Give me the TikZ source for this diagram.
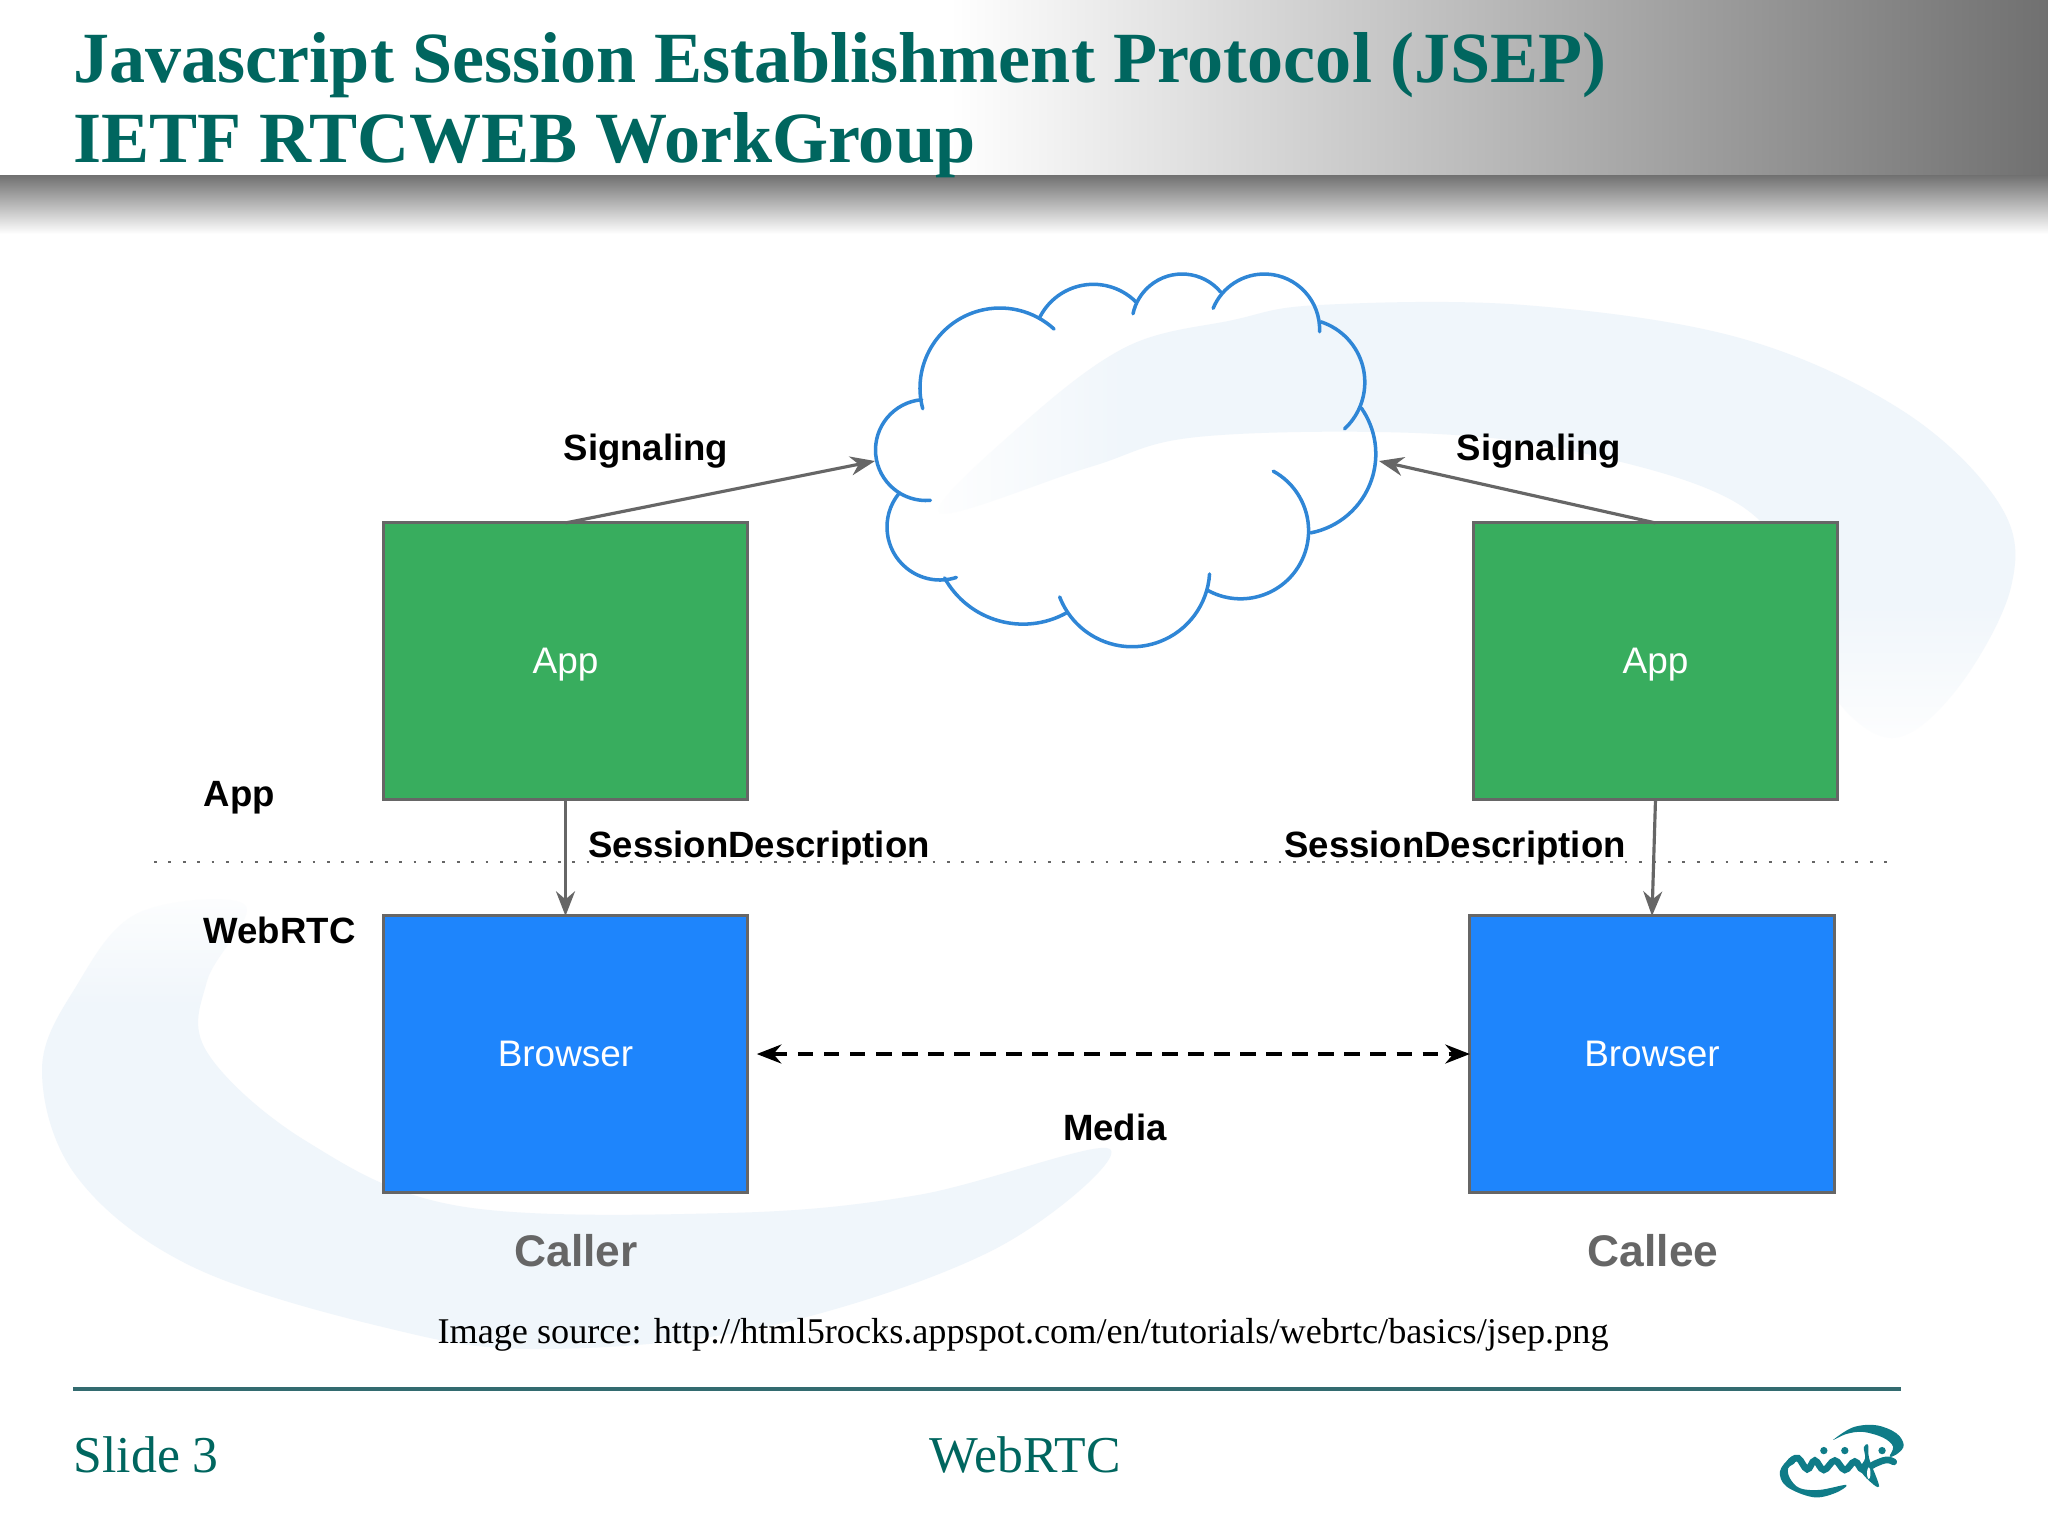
\documentclass[tikz,border=0pt]{standalone}
\usepackage{fontspec}
\setmainfont{Liberation Serif}
\newfontfamily\labelfont{Liberation Sans}
\usetikzlibrary{arrows.meta,fadings}
\definecolor{slideteal}{HTML}{00665F}
\definecolor{ruleteal}{HTML}{336B70}
\definecolor{logoteal}{HTML}{0F7C88}
\definecolor{swooshblue}{HTML}{F0F6FB}
\definecolor{appgreen}{HTML}{38AD5E}
\definecolor{browserblue}{HTML}{1E85FC}
\definecolor{cloudblue}{HTML}{2F86D6}
\definecolor{linegray}{HTML}{666666}
\tikzset{
  slide title/.style={anchor=base west, inner sep=0pt, font=\fontsize{20.5}{24}\selectfont\bfseries, text=slideteal},
  slide footer/.style={inner sep=0pt, font=\fontsize{14.7}{17}\selectfont, text=slideteal},
  layer box/.style={draw=linegray, line width=0.85pt, minimum width=3.64cm, minimum height=2.76cm,
    inner sep=0pt, outer sep=0pt, text=white, text depth=0pt, font=\labelfont\fontsize{10.5}{12}\selectfont},
  diagram label/.style={anchor=base, inner sep=0pt, font=\labelfont\bfseries\fontsize{10.4}{12}\selectfont},
  party label/.style={anchor=base, inner sep=0pt, text=linegray, font=\labelfont\bfseries\fontsize{12.6}{15}\selectfont},
  gray link/.style={draw=linegray, line width=0.9pt, -{Stealth[length=7pt,width=5.4pt]}},
  media link/.style={draw=black, line width=1pt, dash pattern=on 4.4pt off 3pt,
    {Stealth[length=7pt,width=5.4pt]}-{Stealth[length=7pt,width=5.4pt]}, shorten <=2.6pt},
  layer line/.style={draw=black!60, line width=0.8pt, dash pattern=on 0.8pt off 3.3pt},
  cloud arc/.style={draw=cloudblue, line width=1pt, line cap=round}
}
% one lobe of the cloud: centre x, centre y, radius, start angle, end angle
\def\CloudLobe#1#2#3#4#5{\draw[cloud arc] (#1,#2) ++(#4:#3) arc[start angle=#4, end angle=#5, radius=#3];}
\begin{document}
\begin{tikzpicture}[x=0.01cm, y=-0.01cm]
\useasboundingbox (0,0) rectangle (2048,1535);
\fill[white] (0,0) rectangle (2048,1535);

% header
\shade[left color=white, right color=black!56] (950,0) rectangle (2048,175);
\shade[top color=black!56, bottom color=white] (0,175) rectangle (2048,234);

% background swoosh
\fill[swooshblue] plot[smooth cycle, tension=0.6] coordinates {(940,513) (1019,427) (1126,347) (1233,320) (1319,305)
  (1524,305) (1740,338) (1903,411) (2000,505) (2011,587) (1957,689) (1892,738) (1830,690) (1810,600) (1740,505)
  (1578,452) (1416,433) (1197,437) (1090,467)};
\fill[swooshblue] plot[smooth cycle, tension=0.6] coordinates {(1110,1149) (995,1249) (765,1327) (536,1349) (383,1327)
  (191,1266) (77,1177) (42,1070) (77,985) (138,913) (245,905) (207,981) (207,1052) (306,1141) (459,1206) (727,1213) (918,1195)};
\fill[white, path fading=north] (1838,600) rectangle (2048,760);
\fill[white, path fading=south] (0,880) rectangle (290,1010);
\fill[white, path fading=east] (920,330) rectangle (1130,530);

\node[slide title] (titleone) at (73,82) {Javascript Session Establishment Protocol (JSEP)};
\node[slide title] (titletwo) at (73,162) {IETF RTCWEB WorkGroup};

% cloud
\CloudLobe{1000}{388}{80}{165}{312.5}
\CloudLobe{926}{450}{50.5}{265}{85}
\CloudLobe{940}{527}{53}{219}{72}
\CloudLobe{1023}{534.4}{89.7}{151}{61}
\CloudLobe{1132.1}{569.1}{77.6}{159}{3.6}
\CloudLobe{1240.6}{530.8}{68}{119.5}{-61.3}
\CloudLobe{1295.5}{454}{80.3}{79}{-35}
\CloudLobe{1301.2}{382.3}{63.6}{47}{-72}
\CloudLobe{1264.3}{329.3}{55.3}{2.5}{-157.7}
\CloudLobe{1182.1}{324.2}{50.2}{-40}{-168}
\CloudLobe{1093.4}{344.4}{60.1}{-45}{-154}
\coordinate (cloudwest) at (875,461);
\coordinate (cloudeast) at (1379,461);

% layer separator
\coordinate (layerstart) at (154,862);
\coordinate (layerend) at (1894,862);
\draw[layer line] (layerstart) -- (layerend);

\node[layer box, fill=appgreen] (appleft) at (565.5,661) {App};
\node[layer box, fill=appgreen] (appright) at (1655.5,661) {App};
\node[layer box, fill=browserblue] (browserleft) at (565.5,1054) {Browser};
\node[layer box, fill=browserblue] (browserright) at (1652,1054) {Browser};

\draw[gray link] (appleft.north) -- (cloudwest);
\draw[gray link] (appright.north) -- (cloudeast);
\draw[gray link] (appleft.south) -- (browserleft.north);
\draw[gray link] (appright.south) -- (browserright.north);
\draw[media link] (browserleft.east) -- (browserright.west);

\node[diagram label] (signalleft) at (646,460) {Signaling};
\node[diagram label] (signalright) at (1539,460) {Signaling};
\node[diagram label] (sessionleft) at (759,857) {SessionDescription};
\node[diagram label] (sessionright) at (1455,857) {SessionDescription};
\node[diagram label, anchor=base west] (applayer) at (203,806) {App};
\node[diagram label, anchor=base west] (webrtclayer) at (203,943) {WebRTC};
\node[diagram label] (medialabel) at (1115,1140) {Media};
\node[party label] (caller) at (576,1266) {Caller};
\node[party label] (callee) at (1653,1266) {Callee};

\node[anchor=base, inner sep=0pt, font=\fontsize{10.3}{12}\selectfont] (imagesource) at (1023,1343)
  {Image source: http://html5rocks.appspot.com/en/tutorials/webrtc/basics/jsep.png};

% footer
\draw[ruleteal, line width=1.2pt] (73,1389) -- (1901,1389);
\node[slide footer, anchor=base west] (slidenumber) at (73,1472) {Slide 3};
\node[slide footer, anchor=base] (slidename) at (1025,1472) {WebRTC};

% logo
\begin{scope}[shift={(1720,1390)}, x=0.00333cm, y=-0.00333cm]
  \fill[logoteal] plot[smooth cycle, tension=0.6] coordinates {(340,150) (400,112) (470,106) (530,130) (552,165) (535,190)
    (510,200) (520,170) (490,143) (430,126) (380,132)};
  \fill[logoteal] plot[smooth cycle, tension=0.6] coordinates {(210,205) (180,245) (200,290) (280,322) (345,310) (380,285)
    (300,300) (240,295) (210,265) (205,235) (225,218)};
  \draw[logoteal, line width=1.9pt, line cap=round] plot[smooth, tension=0.7] coordinates {(212,215) (235,205) (262,238)
    (285,212) (312,240) (345,212) (375,240) (405,215) (430,240) (465,222) (500,210) (522,216)};
  \fill[logoteal] plot[smooth cycle, tension=0.6] coordinates {(432,172) (445,165) (448,205) (478,290) (440,265) (422,235) (436,205)};
  \fill[white] (447,250) ellipse (5 and 18);
  \foreach \x in {312,375,487}
    \fill[logoteal] (\x,182) circle (11);
\end{scope}
\end{tikzpicture}
\end{document}
